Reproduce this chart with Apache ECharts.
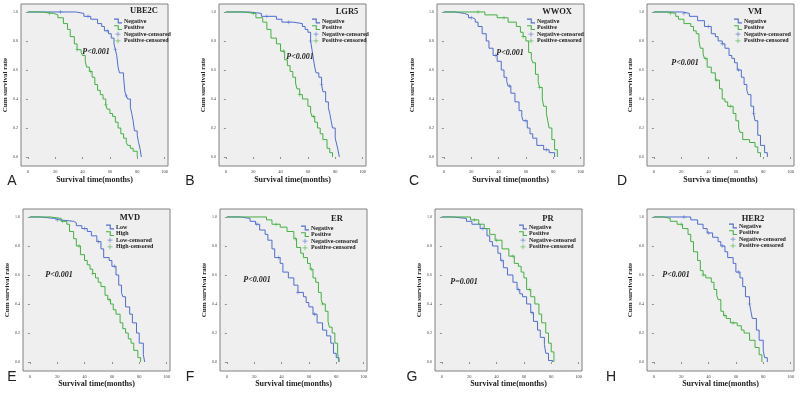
<!DOCTYPE html>
<html lang="en">
<head>
  <meta charset="UTF-8">
  <script src="https://cdn.jsdelivr.net/npm/echarts@6/dist/echarts.min.js"></script>
  <style>
    body { margin: 0; background: #fff; }
    #container { width: 800px; height: 395px; }
  </style>
</head>
<body>
  <div id="container"></div>
  <script>
    // Kaplan-Meier steps: [months, cum survival]
    var ube2cNeg = [[0,1],[35,0.99],[41,0.97],[46,0.95],[51,0.92],[54,0.90],[56,0.87],[59,0.85],[61,0.82],[63,0.78],[64,0.74],[65,0.70],[66,0.62],[67,0.58],[70,0.55],[71,0.45],[72,0.42],[73,0.40],[75,0.34],[76,0.30],[77,0.25],[78,0.18],[80,0.15],[81,0.10],[82,0.06],[83,0]];
    var ube2cPos = [[0,1],[10,0.99],[19,0.98],[22,0.96],[26,0.92],[29,0.88],[31,0.83],[34,0.78],[36,0.74],[39,0.72],[40,0.70],[42,0.66],[43,0.62],[45,0.59],[47,0.55],[49,0.50],[51,0.46],[53,0.43],[55,0.40],[57,0.36],[58,0.33],[60,0.30],[62,0.28],[64,0.24],[66,0.20],[68,0.16],[70,0.13],[72,0.10],[73,0.08],[75,0.06],[77,0.04],[80,0]];
    var lgr5Neg = [[0,1],[17,0.99],[26,0.97],[37,0.95],[41,0.93],[49,0.92],[56,0.90],[58,0.88],[60,0.86],[62,0.80],[63,0.74],[64,0.68],[65,0.62],[66,0.58],[68,0.55],[70,0.50],[71,0.45],[73,0.38],[75,0.34],[76,0.30],[77,0.25],[78,0.20],[80,0.13],[81,0.09],[82,0.05],[83,0]];
    var lgr5Pos = [[0,1],[12,0.99],[22,0.96],[27,0.93],[30,0.88],[33,0.82],[37,0.78],[40,0.73],[43,0.67],[45,0.63],[47,0.59],[49,0.55],[51,0.51],[52,0.47],[54,0.43],[56,0.40],[60,0.35],[62,0.31],[63,0.28],[65,0.24],[67,0.20],[69,0.16],[71,0.12],[74,0.06],[76,0.03],[78,0]];
    var wwoxNeg = [[0,1],[8,0.99],[15,0.98],[18,0.96],[21,0.95],[23,0.93],[25,0.90],[28,0.85],[31,0.80],[33,0.75],[36,0.70],[39,0.66],[42,0.60],[44,0.55],[46,0.52],[47,0.49],[49,0.44],[52,0.38],[55,0.32],[57,0.28],[58,0.25],[61,0.20],[63,0.16],[65,0.13],[68,0.08],[73,0.05],[77,0.03],[81,0]];
    var wwoxPos = [[0,1],[30,0.98],[39,0.96],[47,0.93],[53,0.90],[56,0.86],[58,0.83],[60,0.80],[62,0.72],[64,0.68],[65,0.65],[67,0.57],[69,0.52],[70,0.48],[72,0.40],[73,0.35],[75,0.30],[76,0.25],[77,0.20],[79,0.12],[81,0.05],[83,0]];
    var vmNeg = [[0,1],[21,0.99],[26,0.97],[32,0.94],[37,0.90],[42,0.85],[45,0.83],[47,0.80],[50,0.78],[52,0.75],[55,0.70],[57,0.68],[59,0.65],[61,0.60],[64,0.55],[66,0.50],[68,0.46],[69,0.43],[71,0.35],[73,0.30],[74,0.25],[76,0.15],[78,0.08],[81,0.03],[83,0]];
    var vmPos = [[0,1],[10,0.99],[16,0.97],[18,0.95],[22,0.92],[27,0.90],[29,0.87],[31,0.85],[33,0.80],[34,0.75],[36,0.71],[37,0.68],[39,0.62],[42,0.58],[45,0.53],[48,0.47],[50,0.40],[52,0.38],[54,0.35],[58,0.30],[60,0.25],[62,0.20],[63,0.17],[65,0.12],[70,0.10],[74,0.07],[76,0.03],[78,0]];
    var mvdLow = [[0,1],[8,0.99],[18,0.98],[22,0.97],[32,0.96],[34,0.94],[38,0.92],[42,0.90],[45,0.87],[49,0.83],[52,0.78],[54,0.72],[58,0.70],[60,0.66],[63,0.60],[65,0.53],[67,0.48],[68,0.45],[70,0.38],[73,0.33],[75,0.27],[78,0.20],[80,0.13],[83,0.05],[84,0]];
    var mvdHigh = [[0,1],[15,0.99],[23,0.97],[27,0.95],[29,0.90],[32,0.85],[34,0.80],[37,0.74],[40,0.70],[42,0.67],[44,0.64],[46,0.61],[48,0.58],[50,0.55],[52,0.52],[55,0.46],[57,0.43],[59,0.40],[61,0.36],[63,0.33],[66,0.27],[68,0.23],[70,0.20],[72,0.16],[74,0.13],[76,0.08],[79,0.03],[81,0]];
    var erNeg = [[0,1],[10,0.99],[17,0.97],[21,0.95],[24,0.91],[28,0.88],[30,0.84],[33,0.78],[35,0.72],[39,0.68],[41,0.62],[45,0.58],[49,0.53],[52,0.48],[56,0.45],[58,0.41],[60,0.38],[63,0.33],[66,0.27],[70,0.22],[73,0.18],[76,0.13],[78,0.06],[80,0.03],[82,0]];
    var erPos = [[0,1],[29,0.98],[33,0.95],[39,0.93],[44,0.90],[49,0.85],[51,0.79],[54,0.75],[56,0.72],[59,0.68],[61,0.64],[63,0.58],[65,0.55],[67,0.48],[69,0.43],[70,0.40],[72,0.35],[74,0.28],[75,0.24],[77,0.20],[79,0.13],[81,0.06],[82,0]];
    var prNeg = [[0,1],[8,0.99],[18,0.97],[22,0.95],[28,0.92],[33,0.87],[35,0.83],[37,0.80],[41,0.75],[43,0.70],[45,0.65],[48,0.60],[52,0.55],[55,0.50],[57,0.47],[59,0.45],[62,0.40],[65,0.34],[67,0.28],[70,0.22],[72,0.17],[75,0.12],[76,0.06],[78,0.01],[81,0]];
    var prPos = [[0,1],[21,0.98],[27,0.95],[31,0.92],[35,0.88],[39,0.84],[44,0.78],[49,0.73],[53,0.68],[56,0.66],[58,0.62],[60,0.58],[62,0.50],[65,0.45],[68,0.40],[71,0.33],[73,0.27],[76,0.20],[78,0.13],[80,0.07],[82,0]];
    var her2Neg = [[0,1],[27,0.98],[32,0.95],[36,0.92],[39,0.89],[43,0.86],[47,0.83],[49,0.80],[52,0.76],[54,0.72],[58,0.68],[60,0.62],[63,0.58],[65,0.52],[67,0.45],[70,0.40],[71,0.35],[72,0.30],[75,0.22],[77,0.15],[80,0.08],[81,0.03],[83,0]];
    var her2Pos = [[0,1],[7,0.99],[12,0.97],[17,0.95],[21,0.92],[25,0.88],[27,0.83],[29,0.76],[32,0.70],[34,0.63],[36,0.60],[38,0.58],[42,0.55],[44,0.50],[46,0.46],[47,0.43],[49,0.35],[51,0.32],[53,0.30],[56,0.27],[61,0.25],[64,0.22],[66,0.20],[70,0.15],[74,0.10],[77,0.05],[79,0]];

    // censored times (months)
    var ube2cNegCens = [24, 44, 58, 64, 72];
    var ube2cPosCens = [16, 36, 46, 57];
    var lgr5NegCens = [30, 46, 62, 70];
    var lgr5PosCens = [20, 42, 54, 64];
    var wwoxNegCens = [20, 38, 48, 60, 75];
    var wwoxPosCens = [25, 44, 58, 70];
    var vmNegCens = [22, 40, 50, 62, 73];
    var vmPosCens = [12, 38, 46, 56];
    var mvdLowCens = [20, 40, 50, 62];
    var mvdHighCens = [24, 36, 46, 58];
    var erNegCens = [22, 38, 52, 64];
    var erPosCens = [36, 50, 62, 70];
    var prNegCens = [30, 44, 56, 66];
    var prPosCens = [24, 40, 52, 64];
    var her2NegCens = [22, 40, 50, 62, 70];
    var her2PosCens = [20, 36, 52, 58];

    var panelNames = ['UBE2C', 'LGR5', 'WWOX', 'VM', 'MVD', 'ER', 'PR', 'HER2'];
    var panelLetters = ['A', 'B', 'C', 'D', 'E', 'F', 'G', 'H'];
    var pTexts = ['P<0.001', 'P<0.001', 'P<0.001', 'P<0.001', 'P<0.001', 'P<0.001', 'P=0.001', 'P<0.001'];
    var xNames = ['Survival time(months)', 'Survival time(months)', 'Survival time(months)', 'Surviva time(months)',
      'Survival time(months)', 'Survival time(months)', 'Survival time(months)', 'Survival time(months)'];
    var groupNames = [['Negative', 'Positive'], ['Negative', 'Positive'], ['Negative', 'Positive'], ['Negative', 'Positive'],
      ['Low', 'High'], ['Negative', 'Positive'], ['Negative', 'Positive'], ['Negative', 'Positive']];
    var curves = [[ube2cNeg, ube2cPos], [lgr5Neg, lgr5Pos], [wwoxNeg, wwoxPos], [vmNeg, vmPos],
      [mvdLow, mvdHigh], [erNeg, erPos], [prNeg, prPos], [her2Neg, her2Pos]];
    var censored = [[ube2cNegCens, ube2cPosCens], [lgr5NegCens, lgr5PosCens], [wwoxNegCens, wwoxPosCens], [vmNegCens, vmPosCens],
      [mvdLowCens, mvdHighCens], [erNegCens, erPosCens], [prNegCens, prPosCens], [her2NegCens, her2PosCens]];
    var xTicks = [0, 20, 40, 60, 80, 100];
    var yTicks = [0, 0.2, 0.4, 0.6, 0.8, 1.0];

    // panel placement
    var layout = [
      { left: 21, top: 4, yGap: 12, lx: 114, ly: 18, tx: 144, ty: 11, px: 96, py: 52, ax: 12, ay: 181 },
      { left: 219, top: 4, yGap: 11, lx: 312, ly: 18, tx: 347, ty: 12, px: 300, py: 57, ax: 190, ay: 181 },
      { left: 437, top: 4, yGap: 21, lx: 527, ly: 18, tx: 557, ty: 12, px: 510, py: 53, ax: 414, ay: 181 },
      { left: 647, top: 4, yGap: 13, lx: 734, ly: 18, tx: 755, ty: 12, px: 685, py: 63, ax: 622, ay: 181 },
      { left: 23, top: 209, yGap: 11, lx: 106, ly: 224, tx: 130, ty: 218, px: 59, py: 275, ax: 12, ay: 377 },
      { left: 220, top: 209, yGap: 11, lx: 301, ly: 225, tx: 337, ty: 219, px: 257, py: 280, ax: 190, ay: 377 },
      { left: 435, top: 209, yGap: 11, lx: 519, ly: 224, tx: 548, ty: 219, px: 464, py: 282, ax: 412, ay: 377 },
      { left: 647, top: 209, yGap: 13, lx: 729, ly: 223, tx: 753, ty: 219, px: 676, py: 275, ax: 611, ay: 377 }
    ];

    var BLUE = '#4f6dd0';
    var GREEN = '#44b044';
    var SERIF = 'Liberation Serif';
    var stepIcon = 'path://M0,0H6V4.6H10V6H4.6V1.4H0Z';
    var plusIcon = 'path://M4.3,0H5.7V10H4.3Z M0,4.3H10V5.7H0Z';

    function survivalAt(curve, t) {
      var s = 1;
      for (var i = 0; i < curve.length; i++) {
        if (curve[i][0] <= t) s = curve[i][1];
      }
      return [t, s];
    }

    var grids = [], xAxes = [], yAxes = [], series = [], legends = [], graphics = [];

    for (var p = 0; p < 8; p++) {
      var L = layout[p];
      var row = p < 4 ? 0 : 1;
      grids.push({
        left: L.left, top: L.top, width: 147, height: 162,
        show: true, backgroundColor: '#efefef', borderColor: '#808080', borderWidth: 1
      });
      xAxes.push({
        gridIndex: p, type: 'value', min: -5, max: 102.5,
        name: xNames[p], nameLocation: 'middle', nameGap: row === 0 ? 10 : 7,
        nameTextStyle: { fontFamily: SERIF, fontWeight: 'bold', fontSize: 8, color: '#222' },
        axisLine: { show: false },
        axisTick: { show: true, length: 2, customValues: xTicks, lineStyle: { color: '#777', width: 0.8 } },
        axisLabel: { customValues: xTicks, fontSize: 4.5, color: '#444', margin: 3, fontFamily: SERIF },
        splitLine: { show: false }
      });
      yAxes.push({
        gridIndex: p, type: 'value', min: -0.062, max: 1.055,
        name: 'Cum survival rate', nameLocation: 'middle', nameGap: L.yGap, nameRotate: 90,
        nameTextStyle: { fontFamily: SERIF, fontWeight: 'bold', fontSize: 7, color: '#222' },
        axisLine: { show: false },
        axisTick: { show: true, length: 2, customValues: yTicks, lineStyle: { color: '#777', width: 0.8 } },
        axisLabel: {
          customValues: yTicks, fontSize: 4, color: '#444', margin: 3, fontFamily: SERIF,
          formatter: function (v) { return v.toFixed(1); }
        },
        splitLine: { show: false }
      });

      var names = groupNames[p];
      var colors = [BLUE, GREEN];
      for (var g = 0; g < 2; g++) {
        series.push({
          name: names[g], type: 'line', xAxisIndex: p, yAxisIndex: p,
          data: curves[p][g], step: 'end', symbol: 'none',
          color: colors[g], lineStyle: { width: 1, color: colors[g] }
        });
      }
      for (var g2 = 0; g2 < 2; g2++) {
        series.push({
          name: names[g2] + '-censored', type: 'scatter', xAxisIndex: p, yAxisIndex: p,
          data: censored[p][g2].map(function (t) { return survivalAt(curves[p][g2], t); }),
          symbol: plusIcon, symbolSize: 4, color: colors[g2], z: 3
        });
      }

      legends.push({
        left: L.lx, top: L.ly, orient: 'vertical', selectedMode: false,
        itemWidth: 8, itemHeight: 5, itemGap: 0.6, padding: 0,
        textStyle: { fontFamily: SERIF, fontWeight: 'bold', fontSize: 6, color: '#222', padding: [0, 0, 0, -3] },
        data: [
          { name: names[0], icon: stepIcon },
          { name: names[1], icon: stepIcon },
          { name: names[0] + '-censored', icon: plusIcon },
          { name: names[1] + '-censored', icon: plusIcon }
        ]
      });

      graphics.push({
        type: 'text', x: L.tx, y: L.ty, z: 10,
        style: { text: panelNames[p], fontFamily: SERIF, fontWeight: 'bold', fontSize: 8.5, fill: '#222', align: 'center', verticalAlign: 'middle' }
      });
      graphics.push({
        type: 'text', x: L.px, y: L.py, z: 10,
        style: { text: pTexts[p], fontFamily: SERIF, fontWeight: 'bold', fontStyle: 'italic', fontSize: 8, fill: '#222', align: 'center', verticalAlign: 'middle' }
      });
      graphics.push({
        type: 'text', x: L.ax, y: L.ay, z: 10,
        style: { text: panelLetters[p], fontFamily: 'Liberation Sans', fontSize: 14, fill: '#222', align: 'center', verticalAlign: 'middle' }
      });
    }

    var myChart = echarts.init(document.getElementById('container'));
    myChart.setOption({
      animation: false,
      backgroundColor: '#fff',
      grid: grids,
      xAxis: xAxes,
      yAxis: yAxes,
      legend: legends,
      series: series,
      graphic: graphics
    });
  </script>
</body>
</html>
